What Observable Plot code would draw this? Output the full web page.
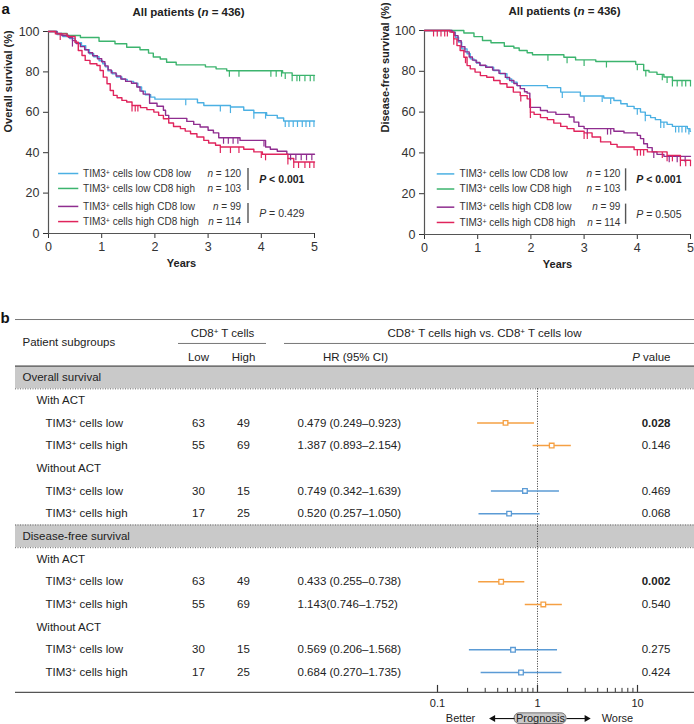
<!DOCTYPE html>
<html><head><meta charset="utf-8">
<script src="https://cdn.jsdelivr.net/npm/d3@7"></script>
<script src="https://cdn.jsdelivr.net/npm/@observablehq/plot@0.6"></script>
<style>
body{margin:0;background:#fff;}
#fig{position:relative;width:694px;height:724px;overflow:hidden;background:#fff;}
#fig > svg{position:absolute;}
</style></head><body><div id="fig"></div>
<script>
// ---------- Panel a data ----------
const groups = ["TIM3⁺ cells low CD8 low","TIM3⁺ cells low CD8 high","TIM3⁺ cells high CD8 low","TIM3⁺ cells high CD8 high"];
const groupN = [120, 103, 99, 114];
const groupColors = ["#4bb0e3","#3cb46e","#8f2d8f","#e0245c"];
const yearTicks = [0,1,2,3,4,5];
const pctTicks = [0,20,40,60,80,100];

// Overall survival: [year, survival %] after each drop
const osLowLow = [[0.16,98.5],[0.27,97.5],[0.4,96.5],[0.5,94.5],[0.62,93],[0.7,91],[0.77,89],[0.85,87.5],[0.95,85.5],[1.02,84],[1.07,82.5],[1.12,80.5],[1.2,79],[1.28,77.5],[1.38,76.3],[1.48,75.3],[1.6,74.4],[1.68,72.5],[1.75,70.5],[1.82,68.7],[1.92,67.5],[2.0,66.5],[2.8,64.7],[2.92,63.4],[3.42,62.6],[3.67,61],[3.86,59.8],[4.1,58.5],[4.3,57.2],[4.42,55.7]];
const osLowHigh = [[0.15,99],[0.35,98],[0.6,97],[0.95,95.2],[1.25,93.9],[1.47,92.2],[1.72,91],[1.88,89.3],[1.97,87.4],[2.1,86.4],[2.22,84.8],[2.4,83.5],[2.95,82.5],[3.15,81.5],[3.35,80.6],[4.4,79.5],[4.58,78.3]];
const osHighLow = [[0.16,99],[0.25,98],[0.38,97],[0.45,95.5],[0.52,94],[0.6,92.5],[0.68,91],[0.75,89.5],[0.83,88],[0.92,86.5],[1.0,85],[1.06,83],[1.12,81],[1.18,79.5],[1.27,78],[1.36,76.5],[1.45,75.3],[1.56,74.4],[1.66,72.5],[1.72,70.5],[1.78,69],[1.9,64.5],[2.04,63],[2.16,61],[2.2,58.5],[2.26,57],[2.6,55.5],[2.73,54],[2.85,52.7],[3.0,51.1],[3.1,49.8],[3.2,47.4],[3.6,46.1],[4.08,42.8],[4.17,41.7],[4.3,40.7],[4.48,39.2]];
const osHighHigh = [[0.13,98.8],[0.35,97.5],[0.5,94.7],[0.56,90.6],[0.63,88.1],[0.69,85.7],[0.78,84],[0.91,83.2],[0.97,80.7],[1.03,77.4],[1.1,74.1],[1.16,70.8],[1.22,68.4],[1.29,67.2],[1.38,65.9],[1.47,65.1],[1.57,63.4],[1.73,62.3],[1.85,61.3],[1.98,60.1],[2.07,58.5],[2.16,56.8],[2.26,54.7],[2.35,53],[2.48,51.9],[2.57,50.7],[2.67,49.4],[2.79,47.8],[2.92,46.1],[3.01,44.8],[3.14,43.7],[3.23,42.8],[3.67,41.7],[3.86,40.4],[4.02,39.2],[4.5,37.1],[4.61,35.4]];
const osLowLowCensor = [2.58,3.23,3.42,3.86,4.08,4.45,4.52,4.6,4.68,4.77,4.84,4.91,4.99];
const osLowHighCensor = [3.4,3.58,4.18,4.28,4.38,4.45,4.58,4.67,4.72,4.82,4.92,4.99];
const osHighLowCensor = [0.45,3.29,3.38,3.47,3.56,4.05,4.55,4.65,4.75,4.85,4.95];
const osHighHighCensor = [0.22,1.57,1.63,1.68,3.23,3.42,3.58,4.0,4.08,4.5,4.61,4.7,4.82,4.91,4.99];
const osPLabels = ["P < 0.001","P = 0.429"];

// Disease-free survival
const dfsLowLow = [[0.51,99.2],[0.58,96.7],[0.64,94.3],[0.7,91],[0.8,88.6],[0.86,86.1],[0.93,85.3],[0.98,84],[1.05,82.8],[1.17,82],[1.3,80.4],[1.42,78.8],[1.55,76.3],[1.64,74.7],[1.74,73],[2.31,72],[2.56,69.8],[2.93,67.9],[3.37,66.9],[3.56,65.7],[3.69,64.1],[3.81,62.8],[3.94,61.7],[4.06,60],[4.15,58.4],[4.25,57.3],[4.34,56.3],[4.44,55.1],[4.56,54],[4.66,53],[4.94,51.9],[4.99,50.6]];
const dfsLowHigh = [[0.74,98.8],[0.93,97],[1.09,95.1],[1.25,94],[1.5,92.3],[1.68,91.4],[1.78,90.2],[1.93,89.1],[2.03,88.1],[2.62,86.9],[2.84,85.6],[3.22,84.8],[3.97,83.4],[4.12,80.4],[4.22,79.6],[4.37,78.5],[4.5,77.2],[4.66,75.5]];
const dfsHighLow = [[0.52,99.2],[0.57,97.5],[0.63,95],[0.69,92],[0.76,89.5],[0.84,87],[0.9,85.5],[0.97,84.3],[1.04,83],[1.15,82],[1.28,80.6],[1.4,79],[1.52,77],[1.6,75.5],[1.68,74],[1.74,73],[1.8,71.5],[1.88,70],[1.93,69.3],[1.98,62.3],[2.18,60.8],[2.31,60],[2.47,58.9],[2.72,57.6],[2.81,55.1],[2.9,53],[3.0,51.9],[3.56,50.6],[3.75,49.8],[4.0,48.6],[4.06,47],[4.12,44.5],[4.19,42.6],[4.28,40.5],[4.37,39.3],[4.5,38.3]];
const dfsHighHigh = [[0.48,99.2],[0.55,95.9],[0.61,92.6],[0.67,90.2],[0.74,86.9],[0.8,82.8],[0.86,81.2],[0.95,79.6],[1.05,77.9],[1.17,77.1],[1.3,75.5],[1.42,73.9],[1.55,72.2],[1.67,69.8],[1.8,68.1],[1.93,66.5],[1.99,60],[2.06,58.9],[2.18,57.3],[2.31,56.3],[2.43,54.6],[2.56,53],[2.68,51.9],[2.81,50.6],[3.0,49.8],[3.15,47.8],[3.31,45.4],[3.5,44.2],[3.62,42.9],[3.94,41.6],[4.19,40.5],[4.56,38.8],[4.81,36.4]];
const dfsLowLowCensor = [2.59,3.0,3.34,3.5,4.0,4.15,4.44,4.5,4.72,4.78,4.84,4.91,4.97];
const dfsLowHighCensor = [2.32,2.68,3.0,3.42,4.0,4.16,4.47,4.56,4.66,4.75,4.84,4.91,5.0];
const dfsHighLowCensor = [3.06,3.44,3.5,4.31,4.6,4.75,4.9];
const dfsHighHighCensor = [0.17,0.24,0.31,0.38,0.43,0.55,0.77,1.81,1.99,3.0,3.06,4.0,4.06,4.12,4.47,4.56,4.66,4.81,4.91,5.0];
const dfsPLabels = ["P < 0.001","P = 0.505"];

// ---------- Panel b data ----------
const forestRowLabels = ["Overall survival","With ACT","TIM3⁺ cells low","TIM3⁺ cells high","Without ACT","TIM3⁺ cells low","TIM3⁺ cells high","Disease-free survival","With ACT","TIM3⁺ cells low","TIM3⁺ cells high","Without ACT","TIM3⁺ cells low","TIM3⁺ cells high"];
const forestRowLevels = [0,1,2,2,1,2,2,0,1,2,2,1,2,2];
const cd8Low = [63,55,30,17,63,55,30,17];
const cd8High = [49,69,15,25,49,69,15,25];
const hrPoint = [0.479,1.387,0.749,0.520,0.433,1.143,0.569,0.684];
const hrLower = [0.249,0.893,0.342,0.257,0.255,0.746,0.206,0.270];
const hrUpper = [0.923,2.154,1.639,1.050,0.738,1.752,1.568,1.735];
const hrLabels = ["0.479 (0.249–0.923)","1.387 (0.893–2.154)","0.749 (0.342–1.639)","0.520 (0.257–1.050)","0.433 (0.255–0.738)","1.143(0.746–1.752)","0.569 (0.206–1.568)","0.684 (0.270–1.735)"];
const pValueLabels = ["0.028","0.146","0.469","0.068","0.002","0.540","0.275","0.424"];
const majorTicks = [0.1,1,10];
const minorTicks = [0.2,0.3,0.4,0.5,0.6,0.7,0.8,0.9,2,3,4,5,6,7,8,9];

// ---------- helpers ----------
const FONT = '"Liberation Sans", Arial, Helvetica, sans-serif';
const fig = document.getElementById("fig");
const tickDown = {draw(ctx) { ctx.moveTo(0, 0); ctx.lineTo(0, 6); }};
function survivalAt(steps, t) { let s = 100; for (const [ti, si] of steps) { if (ti <= t) s = si; else break; } return s; }
function richify(svg) {
  svg.querySelectorAll("text").forEach(t => {
    if (t.querySelector("tspan")) return;
    const s = t.textContent;
    if (!/⁺|(^|\()[nP] [=<]|^P value/.test(s)) return;
    let h = s.replace(/&/g, "&amp;").replace(/</g, "&lt;");
    h = h.replace(/(^|\()([nP])(?= (=|&lt;|value))/g, '$1<tspan font-style="italic">$2</tspan>');
    h = h.replace(/⁺/g, '<tspan baseline-shift="35%" font-size="70%">+</tspan>');
    t.innerHTML = h;
  });
}
function place(svg, left, top) { svg.style.left = left + "px"; svg.style.top = top + "px"; richify(svg); fig.appendChild(svg); }

const legendRowPct = [29.7, 22.3, 13.4, 5.9];

function kmPlot(c) {
  const lines = [], cens = [];
  c.steps.forEach((st, i) => {
    const g = groups[i];
    lines.push({g, t: 0, s: 100});
    st.forEach(([t, s]) => lines.push({g, t, s}));
    lines.push({g, t: 5, s: st[st.length - 1][1]});
    c.censors[i].forEach(t => cens.push({g, t, s: survivalAt(st, t)}));
  });
  const leg = groups.map((g, i) => ({g, n: groupN[i], y: legendRowPct[i]}));
  const L = c.legend;
  return Plot.plot({
    width: 347, height: 280,
    marginLeft: c.ml, marginRight: c.mr, marginTop: c.mt, marginBottom: c.mb,
    style: {fontFamily: FONT, fontSize: "12.5px", color: "#333", background: "transparent", overflow: "visible"},
    x: {domain: [0, 5], ticks: yearTicks, tickFormat: d => String(d), tickSize: 5, label: null},
    y: {domain: [0, 100], ticks: pctTicks, tickFormat: d => String(d), tickSize: 5, label: null},
    color: {domain: groups, range: groupColors},
    marks: [
      Plot.ruleX([0], {stroke: "#555", strokeWidth: 1.2}),
      Plot.ruleY([0], {stroke: "#555", strokeWidth: 1.2}),
      Plot.line(lines, {x: "t", y: "s", z: "g", stroke: "g", curve: "step-after", strokeWidth: 1.4}),
      Plot.dot(cens, {x: "t", y: "s", stroke: "g", symbol: tickDown, fill: "none", strokeWidth: 1.2}),
      Plot.link(leg, {x1: () => L.line[0], x2: () => L.line[1], y1: "y", y2: "y", stroke: "g", strokeWidth: 1.5}),
      Plot.text(leg, {x: () => L.text, y: "y", text: "g", textAnchor: "start", fontSize: 10, fill: "#333"}),
      Plot.text(leg, {x: () => L.n, y: "y", text: d => `n = ${d.n}`, textAnchor: "end", fontSize: 10, fill: "#333"}),
      Plot.ruleX([[21.3, 32.2], [5.0, 14.9]], {x: () => L.bar, y1: d => d[0], y2: d => d[1], stroke: "#555", strokeWidth: 1.4}),
      Plot.text([c.pLabels[0]], {x: () => L.p, y: () => 26.7, text: d => d, textAnchor: "start", fontSize: 10.5, fontWeight: "bold", fill: "#222"}),
      Plot.text([c.pLabels[1]], {x: () => L.p, y: () => 9.9, text: d => d, textAnchor: "start", fontSize: 10.5, fill: "#333"}),
      Plot.text([c.title], {text: d => d, frameAnchor: "top", lineAnchor: "middle", dy: -19, dx: 7, fontWeight: "bold", fontSize: 11.5, fill: "#222"}),
      Plot.text([c.ylabel], {text: d => d, frameAnchor: "left", lineAnchor: "middle", rotate: -90, dx: c.ylabelDx, fontWeight: "bold", fontSize: 11, fill: "#222"}),
      Plot.text(["Years"], {text: d => d, frameAnchor: "bottom", lineAnchor: "middle", dy: 30, fontWeight: "bold", fontSize: 11, fill: "#222"}),
      ...(c.panel ? [Plot.text([c.panel], {text: d => d, frameAnchor: "top-left", lineAnchor: "middle", dx: -c.ml + 1, dy: -c.mt + 9, textAnchor: "start", fontWeight: "bold", fontSize: 15, fill: "#111"})] : [])
    ]
  });
}

const osSvg = kmPlot({
  steps: [osLowLow, osLowHigh, osHighLow, osHighHigh],
  censors: [osLowLowCensor, osLowHighCensor, osHighLowCensor, osHighHighCensor],
  title: "All patients (n = 436)", ylabel: "Overall survival (%)", pLabels: osPLabels, panel: "a",
  ml: 48, mr: 33, mt: 31, mb: 47, ylabelDx: -40,
  legend: {line: [0.18, 0.56], text: 0.65, n: 3.62, bar: 3.75, p: 3.96}
});
place(osSvg, 0, 0);

const dfsSvg = kmPlot({
  steps: [dfsLowLow, dfsLowHigh, dfsHighLow, dfsHighHigh],
  censors: [dfsLowLowCensor, dfsLowHighCensor, dfsHighLowCensor, dfsHighHighCensor],
  title: "All patients (n = 436)", ylabel: "Disease-free survival (%)", pLabels: dfsPLabels,
  ml: 77, mr: 4, mt: 30, mb: 46, ylabelDx: -39,
  legend: {line: [0.23, 0.56], text: 0.66, n: 3.68, bar: 3.78, p: 3.98}
});
place(dfsSvg, 347, 0);

// ---------- forest plot ----------
const rows = forestRowLabels.map((label, i) => ({label, level: forestRowLevels[i], row: i}));
const items = [];
{
  let j = 0, act = "";
  rows.forEach(r => {
    if (r.level === 1) act = r.label;
    if (r.level === 2) {
      items.push({...r, act, low: cd8Low[j], high: cd8High[j], hr: hrPoint[j], lo: hrLower[j], hi: hrUpper[j], hrText: hrLabels[j], p: pValueLabels[j]});
      j++;
    }
  });
}
const withAct = items.filter(d => d.act === "With ACT");
const withoutAct = items.filter(d => d.act !== "With ACT");
const ORANGE = "#f5a043", BLUE = "#5b9bd5";
const axisRow = 13.88;
const txt = (data, opts) => Plot.text(data, {frameAnchor: "left", fill: "#222", fontSize: 11.5, textAnchor: "start", ...opts});

const forestSvg = Plot.plot({
  width: 694, height: 424, marginLeft: 0, marginRight: 0, marginTop: 0, marginBottom: 0,
  style: {fontFamily: FONT, fontSize: "11.5px", color: "#222", background: "transparent", overflow: "visible"},
  x: {type: "log", domain: [0.1, 10], range: [437, 637], axis: null},
  y: {domain: [0, 13], range: [77, 372], axis: null},
  marks: [
    Plot.rect(rows.filter(d => d.level === 0), {y1: d => d.row - 0.5, y2: d => d.row + 0.5, fill: "#c9c9c9", insetLeft: 15}),
    Plot.ruleY([-2.555], {insetLeft: 15, stroke: "#777", strokeWidth: 1}),
    Plot.ruleY([-1.5], {insetLeft: 178, insetRight: 428, stroke: "#777"}),
    Plot.ruleY([-1.5], {insetLeft: 284, stroke: "#777"}),
    Plot.ruleY([-0.5], {insetLeft: 15, stroke: "#555", strokeWidth: 1.3}),
    Plot.ruleY([0.5, 6.5, 7.5], {insetLeft: 15, stroke: "#666", strokeDasharray: "1,1.5"}),
    Plot.ruleX([1], {y1: () => 0.5, y2: () => axisRow, stroke: "#333", strokeDasharray: "1,1.5"}),
    Plot.ruleY([axisRow], {insetLeft: 15, stroke: "#555", strokeWidth: 1.2}),
    Plot.ruleX(majorTicks, {x: d => d, y1: () => axisRow - 0.31, y2: () => axisRow, stroke: "#333", strokeWidth: 1.2}),
    Plot.ruleX(minorTicks, {x: d => d, y1: () => axisRow - 0.18, y2: () => axisRow, stroke: "#333", strokeWidth: 1}),
    Plot.text(majorTicks, {x: d => d, y: () => 14.36, text: d => String(d), fontSize: 11, fill: "#222"}),
    Plot.link(withAct, {x1: "lo", x2: "hi", y1: "row", y2: "row", stroke: ORANGE, strokeWidth: 1.5}),
    Plot.link(withoutAct, {x1: "lo", x2: "hi", y1: "row", y2: "row", stroke: BLUE, strokeWidth: 1.5}),
    Plot.dot(withAct, {x: "hr", y: "row", symbol: "square", r: 2.6, fill: "white", stroke: ORANGE, strokeWidth: 1.3}),
    Plot.dot(withoutAct, {x: "hr", y: "row", symbol: "square", r: 2.6, fill: "white", stroke: BLUE, strokeWidth: 1.3}),
    // prognosis annotation
    Plot.rect(["Prognosis"], {x1: () => 0.59, x2: () => 1.95, y1: () => 14.8, y2: () => 15.27, rx: 5, fill: "#c9c9c9", stroke: "#777"}),
    Plot.text(["Prognosis"], {x: () => 1.07, y: () => 15.03, text: d => d, fontSize: 11, fill: "#222"}),
    Plot.link([[0.59, 0.37], [1.95, 3.05]], {x1: d => d[0], x2: d => d[1], y1: () => 15.03, y2: () => 15.03, stroke: "#111", strokeWidth: 1.1}),
    Plot.dot([[0.36, -90], [3.1, 90]], {x: d => d[0], y: () => 15.03, rotate: d => d[1], symbol: "triangle", r: 2.6, fill: "#111"}),
    Plot.text(["Better"], {x: () => 0.17, y: () => 15.03, text: d => d, fontSize: 11, fill: "#222"}),
    Plot.text(["Worse"], {x: () => 6.3, y: () => 15.03, text: d => d, fontSize: 11, fill: "#222"}),
    // header
    txt(["b"], {y: () => -2.6, text: d => d, dx: 0, fontWeight: "bold", fontSize: 15, fill: "#111"}),
    txt(["Patient subgroups"], {y: () => -1.54, text: d => d, dx: 22}),
    txt(["CD8⁺ T cells"], {y: () => -1.94, text: d => d, dx: 222, textAnchor: "middle"}),
    txt(["CD8⁺ T cells high vs. CD8⁺ T cells low"], {y: () => -1.94, text: d => d, dx: 484, textAnchor: "middle"}),
    txt(["Low"], {y: () => -0.88, text: d => d, dx: 198, textAnchor: "middle"}),
    txt(["High"], {y: () => -0.88, text: d => d, dx: 243, textAnchor: "middle"}),
    txt(["HR (95% CI)"], {y: () => -0.88, text: d => d, dx: 355, textAnchor: "middle"}),
    txt(["P value"], {y: () => -0.88, text: d => d, dx: 670, textAnchor: "end"}),
    // rows
    txt(rows.filter(d => d.level === 0), {y: "row", text: "label", dx: 22}),
    txt(rows.filter(d => d.level === 1), {y: "row", text: "label", dx: 36}),
    txt(rows.filter(d => d.level === 2), {y: "row", text: "label", dx: 45}),
    txt(items, {y: "row", text: d => String(d.low), dx: 198, textAnchor: "middle"}),
    txt(items, {y: "row", text: d => String(d.high), dx: 243, textAnchor: "middle"}),
    txt(items, {y: "row", text: "hrText", dx: 297}),
    txt(items.filter(d => +d.p < 0.05), {y: "row", text: "p", dx: 670, textAnchor: "end", fontWeight: "bold"}),
    txt(items.filter(d => +d.p >= 0.05), {y: "row", text: "p", dx: 670, textAnchor: "end"})
  ]
});
place(forestSvg, 0, 300);
</script></body></html>
